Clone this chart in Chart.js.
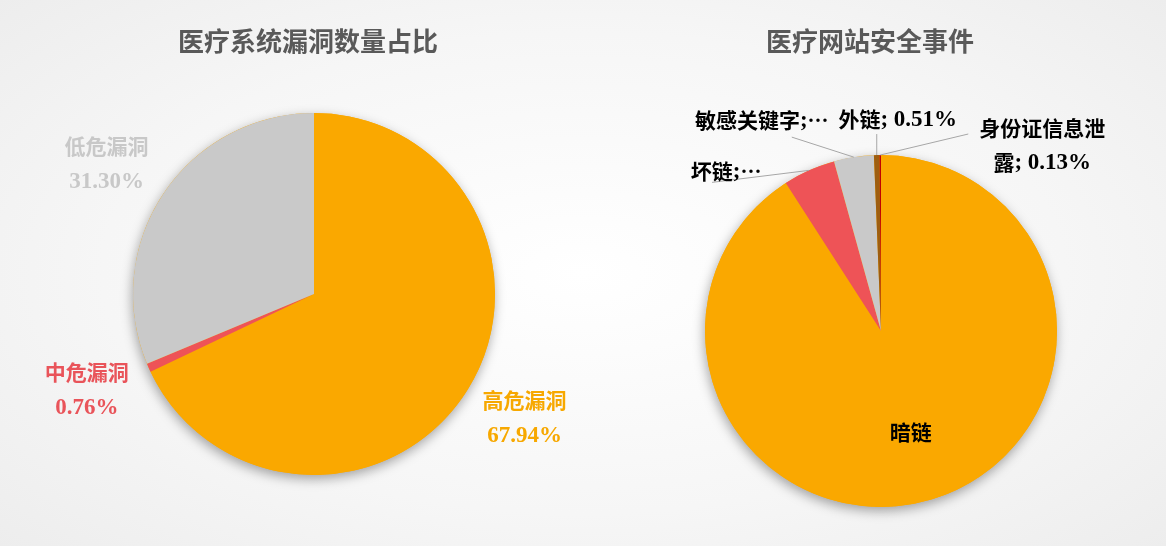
<!DOCTYPE html>
<html>
<head>
<meta charset="utf-8">
<script src="https://cdn.jsdelivr.net/npm/chart.js@4/dist/chart.umd.min.js"></script>
<style>
  html, body { margin: 0; padding: 0; }
  body {
    width: 1166px; height: 546px; overflow: hidden; position: relative;
    background: radial-gradient(ellipse 75% 80% at 50% 50%, #ffffff 0%, #f6f6f6 55%, #ebebeb 100%);
  }
  canvas { position: absolute; top: 0; }
  #vulnChart { left: 0; }
  #siteChart { left: 583px; }
</style>
</head>
<body>
<canvas id="vulnChart" width="583" height="546"></canvas>
<canvas id="siteChart" width="583" height="546"></canvas>
<script>
// Vulnerability share by severity (percent)
const vulnTitle = '医疗系统漏洞数量占比';
const vulnLabels = ['高危漏洞', '中危漏洞', '低危漏洞'];
const vulnValues = [67.94, 0.76, 31.30];

// Website security incidents (percent)
const siteTitle = '医疗网站安全事件';
const siteLabels = ['暗链', '坏链', '敏感关键字', '外链', '身份证信息泄露'];
const siteValues = [90.9, 4.8, 3.66, 0.51, 0.13];

const vulnColors = ['#FAA800', '#EE5357', '#C9C9C9'];
const vulnTextColors = ['#F7A800', '#E9545A', '#C8C8C8'];
const siteColors = ['#FAA800', '#EE5357', '#C9C9C9', '#9E5E10', '#C00000'];

const SERIF = '"Liberation Serif"';
const CJK = '"Noto Sans CJK SC"';

// Draw a string centred at (x, y): CJK glyphs and the ellipsis in a sans CJK face,
// digits and punctuation in a slightly larger bold serif face.
function drawMixed(ctx, text, x, y, size, color) {
  const runs = [];
  for (const ch of text) {
    const cjk = /[\u2026\u3000-\u9fff\uff00-\uffef]/.test(ch);
    const last = runs[runs.length - 1];
    if (last && last.cjk === cjk) last.s += ch; else runs.push({ s: ch, cjk });
  }
  const fontFor = r => r.cjk ? `bold ${size}px ${CJK}` : `bold ${Math.round(size * 1.08)}px ${SERIF}`;
  let total = 0;
  for (const r of runs) {
    ctx.font = fontFor(r);
    r.w = ctx.measureText(r.s).width;
    total += r.w;
  }
  let cx = x - total / 2;
  ctx.fillStyle = color;
  ctx.textAlign = 'left';
  ctx.textBaseline = 'middle';
  for (const r of runs) {
    ctx.font = fontFor(r);
    ctx.fillText(r.s, cx, r.cjk ? y : y + 1);
    cx += r.w;
  }
}

// Soft drop shadow under the whole pie, plus the chart title.
const pieDecor = {
  id: 'pieDecor',
  beforeDatasetsDraw(chart, args, opts) {
    const arc = chart.getDatasetMeta(0).data[0];
    if (!arc) return;
    const { ctx } = chart;
    ctx.save();
    ctx.shadowColor = 'rgba(0,0,0,0.35)';
    ctx.shadowBlur = 12;
    ctx.shadowOffsetX = -1;
    ctx.shadowOffsetY = 4;
    ctx.beginPath();
    ctx.arc(arc.x, arc.y, arc.outerRadius, 0, Math.PI * 2);
    ctx.fillStyle = opts.under;
    ctx.fill();
    ctx.restore();
  },
  afterDraw(chart, args, opts) {
    const { ctx } = chart;
    ctx.save();
    ctx.font = `bold 26px ${CJK}`;
    ctx.fillStyle = '#595959';
    ctx.textAlign = 'center';
    ctx.textBaseline = 'middle';
    ctx.fillText(opts.title, opts.titleX, opts.titleY);
    ctx.restore();
  }
};

// Slice labels: placed from each arc's mid-angle, with optional leader lines.
const sliceLabels = {
  id: 'sliceLabels',
  afterDatasetsDraw(chart, args, opts) {
    const { ctx } = chart;
    const meta = chart.getDatasetMeta(0);
    const labels = chart.data.labels;
    const values = chart.data.datasets[0].data;
    ctx.save();
    meta.data.forEach((arc, i) => {
      const cfg = opts.items[i];
      if (!cfg) return;
      const mid = (arc.startAngle + arc.endAngle) / 2;
      const r = arc.outerRadius;
      const ex = arc.x + Math.cos(mid) * r;
      const ey = arc.y + Math.sin(mid) * r;
      let lx, ly;
      if (cfg.radial !== undefined) {
        lx = arc.x + Math.cos(mid) * r * cfg.radial + (cfg.dx || 0);
        ly = arc.y + Math.sin(mid) * r * cfg.radial + (cfg.dy || 0);
      } else {
        lx = ex + cfg.dx;
        ly = ey + cfg.dy;
      }
      if (cfg.line) {
        ctx.beginPath();
        ctx.moveTo(ex, ey);
        ctx.lineTo(ex + cfg.line[0], ey + cfg.line[1]);
        ctx.strokeStyle = '#A6A6A6';
        ctx.lineWidth = 1;
        ctx.stroke();
      }
      const pct = values[i].toFixed(2) + '%';
      const name = labels[i];
      let lines;
      if (cfg.mode === 'stack') lines = [name, pct];
      else if (cfg.mode === 'name') lines = [name];
      else if (cfg.mode === 'short') lines = [name + ';\u2026'];
      else {
        const full = name + '; ' + pct;
        lines = cfg.wrap ? [full.slice(0, cfg.wrap), full.slice(cfg.wrap)] : [full];
      }
      const gap = opts.lineGap;
      const y0 = ly - gap * (lines.length - 1) / 2;
      lines.forEach((t, k) => drawMixed(ctx, t, lx, y0 + k * gap, opts.size, cfg.color || opts.color));
    });
    ctx.restore();
  }
};

const common = {
  responsive: false,
  animation: false,
  events: [],
  plugins: { legend: { display: false }, tooltip: { enabled: false }, title: { display: false } }
};

new Chart(document.getElementById('vulnChart'), {
  type: 'pie',
  data: {
    labels: vulnLabels,
    datasets: [{ data: vulnValues, backgroundColor: vulnColors, borderWidth: 0, hoverOffset: 0, offset: 0 }]
  },
  options: {
    ...common,
    layout: { padding: { left: 133, right: 88, top: 113, bottom: 71 } },
    plugins: {
      ...common.plugins,
      pieDecor: { under: '#FAA800', title: vulnTitle, titleX: 308, titleY: 41 },
      sliceLabels: {
        size: 21, lineGap: 35, color: '#000',
        items: [
          { mode: 'stack', radial: 1.35, dx: 4, dy: -7, color: vulnTextColors[0] },
          { mode: 'stack', radial: 1.35, dx: -4, dy: -4, color: vulnTextColors[1] },
          { mode: 'stack', radial: 1.35, dx: -4, dy: 5, color: vulnTextColors[2] }
        ]
      }
    }
  },
  plugins: [pieDecor, sliceLabels]
});

new Chart(document.getElementById('siteChart'), {
  type: 'pie',
  data: {
    labels: siteLabels,
    datasets: [{ data: siteValues, backgroundColor: siteColors, borderWidth: 0, hoverOffset: 0, offset: 0 }]
  },
  options: {
    ...common,
    layout: { padding: { left: 122, right: 109, top: 155, bottom: 39 } },
    plugins: {
      ...common.plugins,
      pieDecor: { under: '#FAA800', title: siteTitle, titleX: 287, titleY: 41 },
      sliceLabels: {
        size: 21, lineGap: 34, color: '#000',
        items: [
          { mode: 'name', radial: 0.6 },
          { mode: 'short', dx: -83, dy: 1, line: [-97, 12] },
          { mode: 'short', dx: -92, dy: -37, line: [-62, -20] },
          { mode: 'full', dx: 21, dy: -36, line: [0, -21] },
          { mode: 'full', wrap: 6, dx: 162, dy: -10, line: [88, -21] }
        ]
      }
    }
  },
  plugins: [pieDecor, sliceLabels]
});
</script>
</body>
</html>
